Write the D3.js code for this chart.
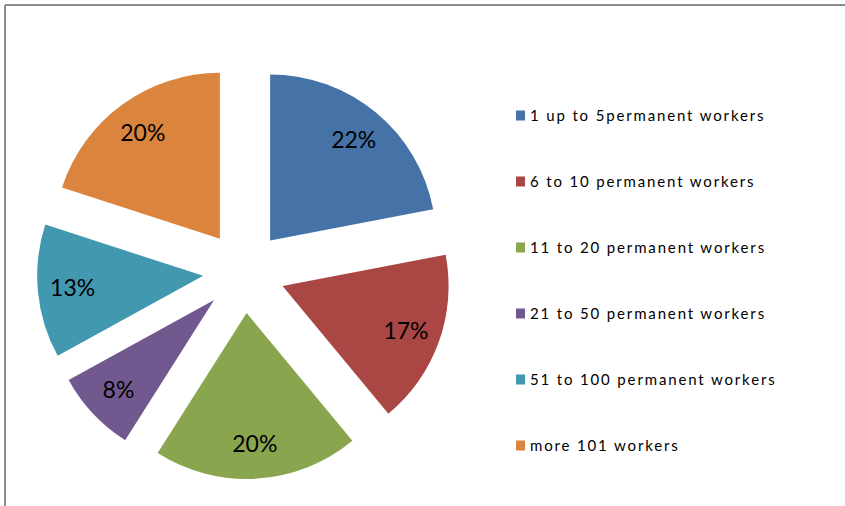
<!DOCTYPE html>
<html>
<head>
<meta charset="utf-8">
<script src="https://cdn.jsdelivr.net/npm/d3@7"></script>
<style>
  html, body { margin: 0; padding: 0; background: #fff; }
  svg { display: block; }
</style>
</head>
<body>
<svg id="chart" width="845" height="506"></svg>
<script>
// Share of firms by number of permanent workers
const categories = [
  "1 up to 5permanent workers",
  "6 to 10 permanent workers",
  "11 to 20 permanent workers",
  "21 to 50 permanent workers",
  "51 to 100 permanent workers",
  "more 101 workers"
];
const shares = [22, 17, 20, 8, 13, 20];
const colors = ["#4572A7", "#AA4643", "#89A54E", "#71588F", "#4198AF", "#DB843D"];

const svg = d3.select("#chart");
const W = 845, H = 506;

// chart frame (top and left edges visible)
svg.append("line").attr("x1", 5).attr("x2", W).attr("y1", 5).attr("y2", 5)
  .attr("stroke", "#8c8c8c").attr("stroke-width", 2);
svg.append("line").attr("x1", 5).attr("x2", 5).attr("y1", 5).attr("y2", H)
  .attr("stroke", "#8c8c8c").attr("stroke-width", 2);

const cx = 244, cy = 272;
const radius = 166;
const explode = 41;

const data = categories.map((c, i) => ({ label: c, value: shares[i], color: colors[i] }));

const pie = d3.pie().value(d => d.value).sort(null);
const arcs = pie(data);

const arc = d3.arc().innerRadius(0).outerRadius(radius);
const labelArc = d3.arc().innerRadius(radius * 0.79).outerRadius(radius * 0.79);

const g = svg.append("g").attr("transform", `translate(${cx},${cy})`);

const slice = g.selectAll("g.slice").data(arcs).enter().append("g")
  .attr("class", "slice")
  .attr("transform", d => {
    const a = (d.startAngle + d.endAngle) / 2;
    return `translate(${explode * Math.sin(a)},${-explode * Math.cos(a)})`;
  });

slice.append("path")
  .attr("d", arc)
  .attr("fill", d => d.data.color);

slice.append("text")
  .attr("transform", d => `translate(${labelArc.centroid(d)})`)
  .attr("text-anchor", "middle")
  .attr("dy", "0.36em")
  .attr("font-family", "Lato, 'Liberation Sans', sans-serif")
  .attr("font-size", 23)
  .attr("fill", "#000")
  .text(d => d.data.value + "%");

// legend
const legendY = d3.scalePoint().domain(categories).range([115.5, 445.5]);
const legend = svg.append("g");
const item = legend.selectAll("g").data(data).enter().append("g")
  .attr("transform", d => `translate(516,${legendY(d.label)})`);
item.append("rect")
  .attr("x", 0).attr("y", -5).attr("width", 9).attr("height", 10)
  .attr("fill", d => d.color);
item.append("text")
  .attr("x", 14).attr("dy", "0.36em")
  .attr("font-family", "Lato, 'Liberation Sans', sans-serif")
  .attr("font-size", 15)
  .attr("letter-spacing", 1.85)
  .attr("fill", "#000")
  .text(d => d.label);
</script>
</body>
</html>
